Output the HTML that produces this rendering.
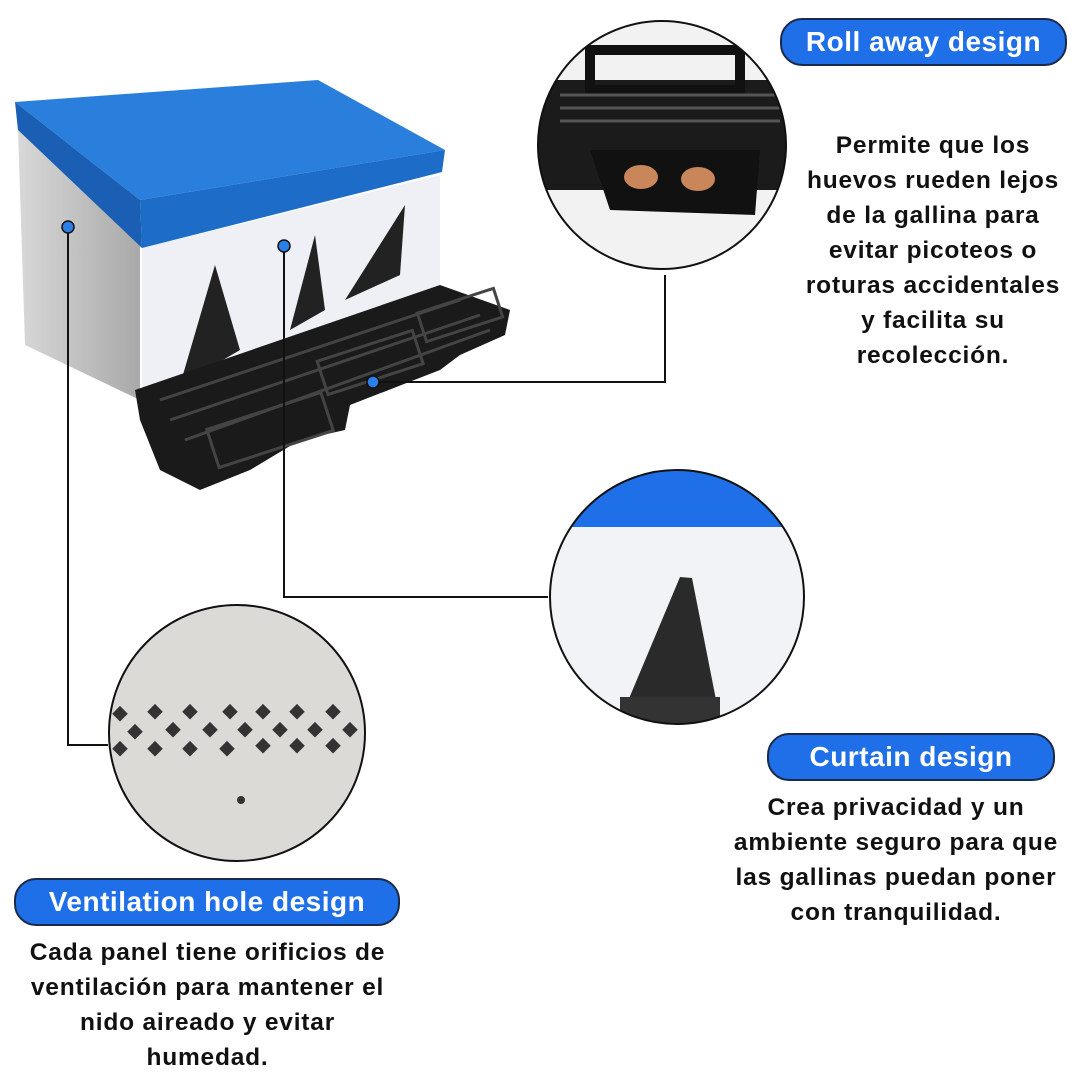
<!DOCTYPE html>
<html><head><meta charset="utf-8"><style>
body{margin:0;width:1080px;height:1080px;background:#fff;position:relative;overflow:hidden;font-family:"Liberation Sans",sans-serif}
.pill{position:absolute;background:#1f6fe8;border:2px solid #1a2a4a;border-radius:22px;color:#fff;font-weight:bold;font-size:28px;text-align:center;line-height:44px;letter-spacing:0.5px;white-space:nowrap}
.t{position:absolute;font-weight:bold;font-size:24.5px;line-height:35px;text-align:center;color:#111;white-space:nowrap;letter-spacing:0.8px}
</style></head><body>
<svg width="1080" height="1080" style="position:absolute;left:0;top:0">
<defs>
<clipPath id="c1"><circle cx="662" cy="145" r="124"/></clipPath>
<clipPath id="c2"><circle cx="677" cy="597" r="127"/></clipPath>
<clipPath id="c3"><circle cx="237" cy="733" r="128"/></clipPath>
<linearGradient id="st" x1="0" x2="1"><stop offset="0" stop-color="#d8d8d8"/><stop offset="1" stop-color="#a9a9a9"/></linearGradient>
</defs>
<polygon points="18,130 140,215 140,400 25,345" fill="url(#st)"/>
<polygon points="142,248 440,175 440,285 142,390" fill="#eef0f5"/>
<polygon points="180,385 215,265 240,350" fill="#222"/>
<polygon points="290,330 315,235 325,310" fill="#222"/>
<polygon points="345,300 405,205 400,275" fill="#222"/>
<polygon points="135,390 440,285 510,310 505,335 460,355 440,370 350,405 345,430 300,440 250,470 200,490 160,470 140,420" fill="#1a1a1a"/>
<g stroke="#444" stroke-width="3" fill="none">
<path d="M160,400 L460,300 M170,420 L480,315 M185,440 L490,330"/>
<rect x="210" y="410" width="120" height="40" transform="rotate(-18 270 430)"/>
<rect x="320" y="345" width="100" height="35" transform="rotate(-18 370 362)"/>
<rect x="420" y="300" width="80" height="30" transform="rotate(-18 460 315)"/>
</g>
<polygon points="15,102 318,80 445,150 140,200" fill="#2a7fdc"/>
<polygon points="140,200 445,150 442,172 142,248" fill="#1d6cc8"/>
<polygon points="15,102 140,200 142,248 18,130" fill="#1a5fb3"/>
<g clip-path="url(#c1)">
<rect x="530" y="15" width="270" height="260" fill="#f2f2f2"/>
<rect x="535" y="80" width="260" height="110" fill="#1b1b1b"/>
<polygon points="590,50 740,50 740,90 590,90" fill="none" stroke="#111" stroke-width="10"/>
<g stroke="#555" stroke-width="3"><path d="M560,95 L780,95 M560,108 L780,108 M560,121 L780,121"/></g>
<polygon points="590,150 760,150 755,215 610,210" fill="#111"/>
<ellipse cx="641" cy="177" rx="17" ry="12" fill="#c9865a"/>
<ellipse cx="698" cy="179" rx="17" ry="12" fill="#c9865a"/>
</g>
<circle cx="662" cy="145" r="124" fill="none" stroke="#111" stroke-width="2"/>
<g clip-path="url(#c2)">
<rect x="540" y="465" width="280" height="270" fill="#f2f3f7"/>
<rect x="540" y="465" width="280" height="62" fill="#1f6fe8"/>
<polygon points="620,720 680,577 692,578 720,720" fill="#2a2a2a"/>
<rect x="620" y="697" width="100" height="30" fill="#333"/>
</g>
<circle cx="677" cy="597" r="127" fill="none" stroke="#111" stroke-width="2"/>
<g clip-path="url(#c3)">
<rect x="100" y="600" width="280" height="270" fill="#dcdad6"/>
<g fill="#333">
<rect x="115" y="708" width="11" height="11" transform="rotate(45 120 713)"/>
<rect x="150" y="706" width="11" height="11" transform="rotate(45 155 711)"/>
<rect x="185" y="706" width="11" height="11" transform="rotate(45 190 711)"/>
<rect x="225" y="706" width="11" height="11" transform="rotate(45 230 711)"/>
<rect x="258" y="706" width="11" height="11" transform="rotate(45 263 711)"/>
<rect x="292" y="706" width="11" height="11" transform="rotate(45 297 711)"/>
<rect x="328" y="706" width="11" height="11" transform="rotate(45 333 711)"/>
<rect x="130" y="726" width="11" height="11" transform="rotate(45 135 731)"/>
<rect x="168" y="724" width="11" height="11" transform="rotate(45 173 729)"/>
<rect x="205" y="724" width="11" height="11" transform="rotate(45 210 729)"/>
<rect x="240" y="724" width="11" height="11" transform="rotate(45 245 729)"/>
<rect x="275" y="724" width="11" height="11" transform="rotate(45 280 729)"/>
<rect x="310" y="724" width="11" height="11" transform="rotate(45 315 729)"/>
<rect x="345" y="724" width="11" height="11" transform="rotate(45 350 729)"/>
<rect x="115" y="743" width="11" height="11" transform="rotate(45 120 748)"/>
<rect x="150" y="743" width="11" height="11" transform="rotate(45 155 748)"/>
<rect x="185" y="743" width="11" height="11" transform="rotate(45 190 748)"/>
<rect x="222" y="743" width="11" height="11" transform="rotate(45 227 748)"/>
<rect x="258" y="740" width="11" height="11" transform="rotate(45 263 745)"/>
<rect x="292" y="740" width="11" height="11" transform="rotate(45 297 745)"/>
<rect x="328" y="740" width="11" height="11" transform="rotate(45 333 745)"/>
<circle cx="241" cy="800" r="4"/>
</g>
</g>
<circle cx="237" cy="733" r="128" fill="none" stroke="#111" stroke-width="2"/>
<g stroke="#111" stroke-width="2" fill="none">
<path d="M373,382 L665,382 L665,275"/>
<path d="M284,246 L284,597 L548,597"/>
<path d="M68,227 L68,745 L108,745"/>
</g>
<g fill="#2a7fe8" stroke="#111" stroke-width="1.5">
<circle cx="373" cy="382" r="6"/><circle cx="284" cy="246" r="6"/><circle cx="68" cy="227" r="6"/>
</g>
</svg>
<div class="pill" style="left:780px;top:18px;width:283px">Roll away design</div>
<div class="pill" style="left:767px;top:733px;width:284px">Curtain design</div>
<div class="pill" style="left:14px;top:878px;width:382px">Ventilation hole design</div>
<div class="t" style="left:783px;top:128px;width:300px">Permite que los<br>huevos rueden lejos<br>de la gallina para<br>evitar picoteos o<br>roturas accidentales<br>y facilita su<br>recolección.</div>
<div class="t" style="left:720px;top:790px;width:352px">Crea privacidad y un<br>ambiente seguro para que<br>las gallinas puedan poner<br>con tranquilidad.</div>
<div class="t" style="left:5px;top:935px;width:405px">Cada panel tiene orificios de<br>ventilación para mantener el<br>nido aireado y evitar<br>humedad.</div>
</body></html>
